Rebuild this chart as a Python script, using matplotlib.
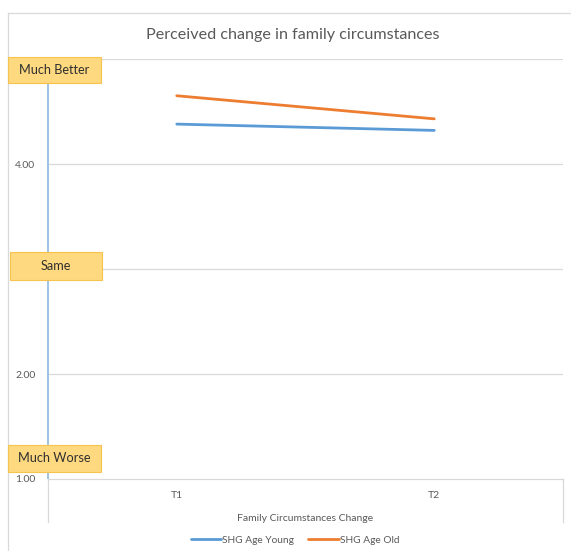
import numpy as np
import matplotlib.pyplot as plt
from matplotlib.patches import Rectangle
from matplotlib.lines import Line2D

plt.rcParams['font.family'] = ['Lato', 'DejaVu Sans']

periods = ['T1', 'T2']
young = [4.38, 4.32]
old = [4.65, 4.43]
ytick_vals = [1, 2, 4]
ytick_labels = ['1.00', '2.00', '4.00']
scale_labels = ['Much Better', 'Same', 'Much Worse']

grey = '#595959'
W, H = 571, 551
fig = plt.figure(figsize=(W / 100, H / 100), dpi=100)

def fx(px):
    return px / W

def fy(py):
    return 1 - py / H

# chart frame
fig.add_artist(Line2D([fx(8), fx(8)], [fy(13), 0], color='#d9d9d9', lw=0.9))
fig.add_artist(Line2D([fx(8), 1], [fy(13), fy(13)], color='#d9d9d9', lw=0.9))

ax = fig.add_axes([fx(48), fy(479), fx(563) - fx(48), fy(59) - fy(479)])
x = np.arange(len(periods))
ax.plot(x, young, color='#5B9BD5', lw=2.0, solid_capstyle='round', label='SHG Age Young')
ax.plot(x, old, color='#ED7D31', lw=2.0, solid_capstyle='round', label='SHG Age Old')

ax.set_xlim(-0.5, 1.5)
ax.set_ylim(1, 5)
ax.set_xticks(x)
ax.set_xticklabels(periods)
ax.set_yticks(ytick_vals)
ax.set_yticklabels(ytick_labels)
for v in [2, 3, 4, 5]:
    ax.axhline(v, color='#d9d9d9', lw=0.9, zorder=0)
ax.tick_params(length=0, labelsize=7.5, labelcolor=grey)
ax.tick_params(axis='x', pad=9)
ax.tick_params(axis='y', pad=9)
for s in ['top', 'right', 'left']:
    ax.spines[s].set_visible(False)
ax.spines['bottom'].set_color('#d9d9d9')
ax.spines['bottom'].set_linewidth(0.9)

# category dividers below the axis
for xa in [0, 1]:
    ax.plot([xa, xa], [0, -0.102], transform=ax.transAxes, color='#d9d9d9',
            lw=0.9, clip_on=False)

# vertical scale arrow
ax.plot([-0.5, -0.5], [1.01, 5], color='#9DC3E6', lw=1.4, clip_on=False, zorder=3)

ax.set_xlabel('Family Circumstances Change', fontsize=7.5, color=grey, labelpad=10)
fig.text(fx(293), fy(35), 'Perceived change in family circumstances',
         ha='center', va='center', fontsize=11.6, color=grey)

ax.legend(loc='center', bbox_to_anchor=(fx(295), fy(540)), bbox_transform=fig.transFigure,
          ncol=2, frameon=False, fontsize=7.3, labelcolor=grey, handlelength=3.0,
          handletextpad=0.1, columnspacing=1.4)

# scale boxes
boxes = [(8, 57, 101, 83), (10, 252, 102, 280), (8, 445, 101, 472)]
for label, (x0, y0, x1, y1) in zip(scale_labels, boxes):
    fig.add_artist(Rectangle((fx(x0), fy(y1)), fx(x1) - fx(x0), fy(y0) - fy(y1),
                             facecolor='#FFD97F', edgecolor='#F6C34F', lw=0.8, zorder=5))
    fig.text(fx((x0 + x1) / 2), fy((y0 + y1) / 2), label, ha='center', va='center',
             fontsize=9.2, color='#303030', zorder=6)

fig.savefig('out.png', dpi=100)
